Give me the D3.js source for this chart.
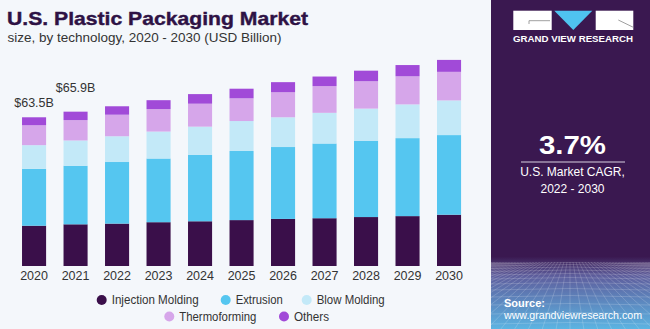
<!DOCTYPE html>
<html><head><meta charset="utf-8">
<script src="https://cdn.jsdelivr.net/npm/d3@7"></script>
<style>html,body{margin:0;padding:0;background:#f4f7fb;}svg{display:block;}</style>
</head><body>
<svg id="c" width="650" height="329"></svg>
<script>
const years = ["2020","2021","2022","2023","2024","2025","2026","2027","2028","2029","2030"];
const injection = [17.2,17.8,18.1,18.7,19.1,19.6,20.1,20.4,20.9,21.3,21.9];
const extrusion = [24.3,25.0,26.3,27.2,28.4,29.5,30.7,31.9,32.6,33.3,34.0];
const blowMolding = [10.1,10.8,11.0,11.5,12.0,12.8,12.7,13.1,13.7,14.4,14.8];
const thermoforming = [8.5,8.7,9.2,9.6,9.8,9.7,10.7,11.4,11.7,12.0,12.2];
const others = [3.4,3.6,3.6,3.8,4.1,4.1,4.3,4.1,4.5,4.8,5.1];
const seriesNames = ["Injection Molding","Extrusion","Blow Molding","Thermoforming","Others"];
const seriesColors = ["#3a0f4a","#55c6f0","#c3e9f8","#d6a6ea","#a14ad8"];
const totalLabels = [{year:"2020", text:"$63.5B", lift:10},{year:"2021", text:"$65.9B", lift:20}];

const svg = d3.select("#c");
svg.append("rect").attr("width",650).attr("height",329).attr("fill","#f4f7fb");

const rows = years.map((y,i)=>({year:y,"Injection Molding":injection[i],"Extrusion":extrusion[i],"Blow Molding":blowMolding[i],"Thermoforming":thermoforming[i],"Others":others[i]}));
const stack = d3.stack().keys(seriesNames)(rows);

const x = d3.scaleBand().domain(years).range([4.6,478.5]).padding(0.42);
const y = d3.scaleLinear().domain([0,100]).range([266,31.8]);
const color = d3.scaleOrdinal().domain(seriesNames).range(seriesColors);

const g = svg.append("g");
g.selectAll("g.s").data(stack).join("g").attr("fill",d=>color(d.key))
  .selectAll("rect").data(d=>d).join("rect")
  .attr("x",d=>x(d.data.year)).attr("width",x.bandwidth())
  .attr("y",d=>y(d[1])).attr("height",d=>y(d[0])-y(d[1]));

// x axis labels
const xAxis = d3.axisBottom(x).tickSize(0).tickPadding(5);
const ax = svg.append("g").attr("transform","translate(0,266)").call(xAxis);
ax.select(".domain").remove();
ax.selectAll("text").attr("font-family","Liberation Sans, Arial, sans-serif").attr("font-size","12.5px").attr("fill","#333");

// total labels
const totals = years.map((yr,i)=>injection[i]+extrusion[i]+blowMolding[i]+thermoforming[i]+others[i]);
svg.selectAll("text.tot").data(totalLabels).join("text").attr("class","tot")
  .attr("x",d=>x(d.year)+x.bandwidth()/2)
  .attr("y",d=>y(totals[years.indexOf(d.year)])-d.lift)
  .attr("text-anchor","middle").attr("font-family","Liberation Sans, Arial, sans-serif")
  .attr("font-size","12.5px").attr("fill","#333").text(d=>d.text);

// title
svg.append("text").attr("x",7).attr("y",25).attr("font-family","Liberation Sans, Arial, sans-serif")
  .attr("font-weight","bold").attr("font-size","19px").attr("fill","#2e1245").attr("stroke","#2e1245").attr("stroke-width",0.4)
  .attr("textLength",301).attr("lengthAdjust","spacingAndGlyphs").text("U.S. Plastic Packaging Market");
svg.append("text").attr("x",7.5).attr("y",42).attr("font-family","Liberation Sans, Arial, sans-serif")
  .attr("font-size","13px").attr("fill","#333")
  .attr("textLength",274).attr("lengthAdjust","spacingAndGlyphs").text("size, by technology, 2020 - 2030 (USD Billion)");

// legend
const legendItems = [
  {name:"Injection Molding", cx:101.7, cy:300, tw:87},
  {name:"Extrusion", cx:225.7, cy:300, tw:47},
  {name:"Blow Molding", cx:306.7, cy:300, tw:68},
  {name:"Thermoforming", cx:169.3, cy:316.5, tw:77},
  {name:"Others", cx:284, cy:316.5, tw:35}
];
const lg = svg.selectAll("g.lg").data(legendItems).join("g").attr("class","lg");
lg.append("circle").attr("cx",d=>d.cx).attr("cy",d=>d.cy).attr("r",5).attr("fill",d=>color(d.name));
lg.append("text").attr("x",d=>d.cx+10).attr("y",d=>d.cy+4.3)
  .attr("font-family","Liberation Sans, Arial, sans-serif").attr("font-size","12px").attr("fill","#333")
  .attr("textLength",d=>d.tw).attr("lengthAdjust","spacingAndGlyphs").text(d=>d.name);

// right panel
const defs = svg.append("defs");
const grad = defs.append("linearGradient").attr("id","pg").attr("x1",0).attr("y1",0).attr("x2",0).attr("y2",1);
grad.append("stop").attr("offset","0").attr("stop-color","#3a1850");
grad.append("stop").attr("offset","0.78").attr("stop-color","#3a1850");
grad.append("stop").attr("offset","0.84").attr("stop-color","#5e5f9e");
grad.append("stop").attr("offset","1").attr("stop-color","#5cb4e2");
svg.append("rect").attr("x",491).attr("y",0).attr("width",159).attr("height",329).attr("fill","url(#pg)");
defs.append("clipPath").attr("id","mc").append("rect").attr("x",491).attr("y",262).attr("width",159).attr("height",67);
const mesh = svg.append("g").attr("clip-path","url(#mc)").attr("stroke","#ffffff").attr("stroke-opacity",0.25).attr("stroke-width",0.7).attr("fill","none");
[264,266,268.5,271.5,275,279,284,290,297,305,314,324].forEach(yy=>{
  mesh.append("path").attr("d",`M491,${yy} Q570,${yy-3} 650,${yy}`);
});
d3.range(-30,31).forEach(k=>{
  mesh.append("line").attr("x1",570+k*3).attr("y1",262).attr("x2",570+k*14).attr("y2",330);
});

// logo
svg.append("rect").attr("x",513.3).attr("y",10.7).attr("width",38.4).attr("height",19.3).attr("fill","#fff");
svg.append("path").attr("d","M529,24 L529,20.7 L550,20.7").attr("stroke","#888").attr("stroke-width",0.8).attr("fill","none");
svg.append("path").attr("d","M554.3,10.7 L592.3,10.7 L573.3,30 Z").attr("fill","#4fc3f0");
svg.append("rect").attr("x",595.7).attr("y",10.7).attr("width",37.6).attr("height",19.3).attr("fill","#fff");
svg.append("path").attr("d","M618.3,20 L633.3,27.3").attr("stroke","#888").attr("stroke-width",0.8).attr("fill","none");
svg.append("text").attr("x",513).attr("y",41.7).attr("font-family","Liberation Sans, Arial, sans-serif")
  .attr("font-weight","bold").attr("font-size","9.5px").attr("fill","#fff")
  .attr("textLength",120).attr("lengthAdjust","spacingAndGlyphs").text("GRAND VIEW RESEARCH");

// CAGR
svg.append("text").attr("x",539).attr("y",154).attr("font-family","Liberation Sans, Arial, sans-serif")
  .attr("font-weight","bold").attr("font-size","25px").attr("fill","#fff")
  .attr("textLength",67).attr("lengthAdjust","spacingAndGlyphs").text("3.7%");
svg.append("line").attr("x1",521).attr("x2",625).attr("y1",162).attr("y2",162).attr("stroke","#d8d0e0").attr("stroke-width",1.2);
svg.append("text").attr("x",572.5).attr("y",176).attr("text-anchor","middle").attr("font-family","Liberation Sans, Arial, sans-serif")
  .attr("font-size","12px").attr("fill","#fff").text("U.S. Market CAGR,");
svg.append("text").attr("x",572.5).attr("y",193).attr("text-anchor","middle").attr("font-family","Liberation Sans, Arial, sans-serif")
  .attr("font-size","12px").attr("fill","#fff").text("2022 - 2030");

// source
svg.append("text").attr("x",504).attr("y",306.5).attr("font-family","Liberation Sans, Arial, sans-serif")
  .attr("font-weight","bold").attr("font-size","11px").attr("fill","#fff").text("Source:");
svg.append("text").attr("x",504).attr("y",319).attr("font-family","Liberation Sans, Arial, sans-serif")
  .attr("font-size","11px").attr("fill","#fff").attr("textLength",138).attr("lengthAdjust","spacingAndGlyphs").text("www.grandviewresearch.com");
</script>
</body></html>
